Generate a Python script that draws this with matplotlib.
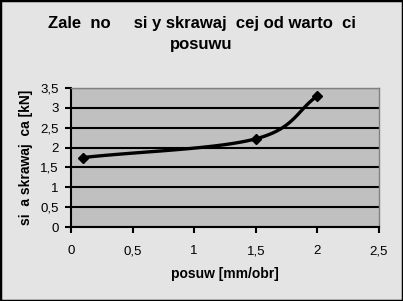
import numpy as np
import matplotlib
matplotlib.use('Agg')
import matplotlib.pyplot as plt

# Dane z wykresu
posuw = [0.1, 1.5, 2.0]
sila = [1.75, 2.22, 3.3]
x_ticks = [0, 0.5, 1, 1.5, 2, 2.5]
y_ticks = [0, 0.5, 1, 1.5, 2, 2.5, 3, 3.5]
x_labels = ['0', '0,5', '1', '1,5', '2', '2,5']
y_labels = ['0', '0,5', '1', '1,5', '2', '2,5', '3', '3,5']

plt.rcParams['font.family'] = ['Liberation Sans', 'DejaVu Sans']

# Lissage type Catmull-Rom (comme la ligne lissee d'Excel)
def catmull_rom(xs, ys, n=40):
    px = [2 * xs[0] - xs[1]] + list(xs) + [2 * xs[-1] - xs[-2]]
    py = [2 * ys[0] - ys[1]] + list(ys) + [2 * ys[-1] - ys[-2]]
    outx, outy = [], []
    for i in range(1, len(px) - 2):
        t = np.linspace(0, 1, n)
        for p, out in ((px, outx), (py, outy)):
            p0, p1, p2, p3 = p[i - 1], p[i], p[i + 1], p[i + 2]
            out.extend(0.5 * (2 * p1 + (-p0 + p2) * t
                              + (2 * p0 - 5 * p1 + 4 * p2 - p3) * t ** 2
                              + (-p0 + 3 * p1 - 3 * p2 + p3) * t ** 3))
    return outx, outy

fig = plt.figure(figsize=(4.03, 3.01), dpi=100, facecolor='#e4e4e4')
fig.patches.append(plt.Rectangle((0, 0), 1, 1, transform=fig.transFigure,
                                 fill=False, edgecolor='black', linewidth=2.5))
ax = fig.add_axes([71 / 403, 1 - 227 / 301, 308 / 403, 139 / 301])
ax.set_facecolor('#c0c0c0')

sx, sy = catmull_rom(posuw, sila)
ax.plot(sx, sy, color='black', linewidth=2.4)
ax.plot(posuw, sila, linestyle='none', marker='D', markersize=5, color='black')

ax.set_xlim(0, 2.5)
ax.set_ylim(0, 3.5)
ax.set_xticks(x_ticks)
ax.set_xticklabels(x_labels)
ax.set_yticks(y_ticks)
ax.set_yticklabels(y_labels)
ax.grid(True, axis='y', color='black', linewidth=1.5)
ax.set_axisbelow(True)
ax.tick_params(direction='out', length=4, width=1.5, labelsize=9.5, pad=9)
ax.tick_params(axis='y', pad=5)

for s in ['top', 'right']:
    ax.spines[s].set_color('#808080')
    ax.spines[s].set_linewidth(1)
for s in ['left', 'bottom']:
    ax.spines[s].set_color('black')
    ax.spines[s].set_linewidth(1.5)

ax.set_xlabel('posuw [mm/obr]', fontsize=10, fontweight='bold', labelpad=7)
ax.set_ylabel('si  a skrawaj  ca [kN]', fontsize=10, fontweight='bold', labelpad=5)
fig.text(0.5, 1 - 34 / 301, 'Zale  no     si y skrawaj  cej od warto  ci\nposuwu',
         ha='center', va='center', fontsize=12, fontweight='bold', linespacing=1.55)

fig.savefig('out.png', dpi=100, facecolor=fig.get_facecolor())
